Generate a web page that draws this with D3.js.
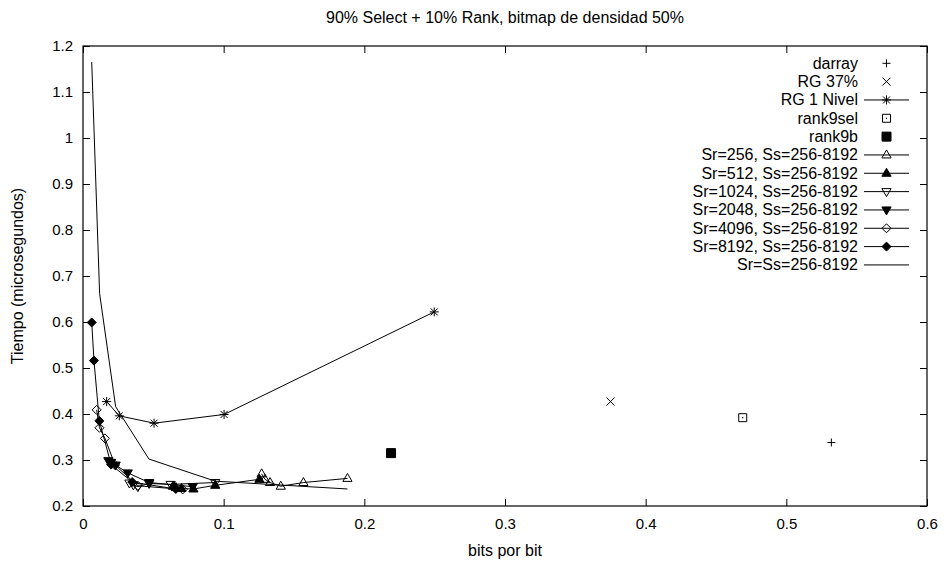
<!DOCTYPE html>
<html>
<head>
<meta charset="utf-8">
<script src="https://cdn.jsdelivr.net/npm/d3@7"></script>
<style>
  html, body { margin: 0; padding: 0; background: #fff; }
  svg text { font-family: "Liberation Sans", Arial, Helvetica, sans-serif; fill: #000; }
</style>
</head>
<body>
<svg id="chart" width="944" height="565"></svg>
<script>
// ---- data ----------------------------------------------------------------
const xTickValues = [0, 0.1, 0.2, 0.3, 0.4, 0.5, 0.6];
const xTickLabels = ["0", "0.1", "0.2", "0.3", "0.4", "0.5", "0.6"];
const yTickValues = [0.2, 0.3, 0.4, 0.5, 0.6, 0.7, 0.8, 0.9, 1.0, 1.1, 1.2];
const yTickLabels = ["0.2", "0.3", "0.4", "0.5", "0.6", "0.7", "0.8", "0.9", "1", "1.1", "1.2"];

const darrayX = [0.532];
const darrayY = [0.338];
const rg37X = [0.375];
const rg37Y = [0.427];
const rgNivelX = [0.0168, 0.0258, 0.0505, 0.1003, 0.2497];
const rgNivelY = [0.427, 0.396, 0.380, 0.399, 0.622];
const rank9selX = [0.469];
const rank9selY = [0.392];
const rank9bX = [0.219];
const rank9bY = [0.315];

const sr256X  = [0.188, 0.1567, 0.1406, 0.133, 0.1294, 0.127];
const sr256Y  = [0.260, 0.251, 0.243, 0.251, 0.258, 0.270];
const sr512X  = [0.1254, 0.094, 0.0785, 0.070, 0.066, 0.064];
const sr512Y  = [0.258, 0.245, 0.237, 0.238, 0.240, 0.243];
const sr1024X = [0.094, 0.0623, 0.047, 0.039, 0.0358, 0.033];
const sr1024Y = [0.251, 0.247, 0.249, 0.242, 0.246, 0.250];
const sr2048X = [0.078, 0.047, 0.0318, 0.0232, 0.020, 0.018];
const sr2048Y = [0.242, 0.251, 0.272, 0.289, 0.295, 0.2985];
const sr4096X = [0.0709, 0.039, 0.0228, 0.0156, 0.0117, 0.0097];
const sr4096Y = [0.236, 0.244, 0.289, 0.347, 0.370, 0.409];
const sr8192X = [0.066, 0.035, 0.020, 0.0116, 0.0078, 0.0062];
const sr8192Y = [0.237, 0.252, 0.290, 0.385, 0.516, 0.599];
const srEqX   = [0.188, 0.094, 0.0469, 0.0232, 0.0118, 0.0062];
const srEqY   = [0.237, 0.254, 0.302, 0.416, 0.662, 1.165];

const series = [
  { name: "darray", xs: darrayX, ys: darrayY, mark: "plus", line: false },
  { name: "RG 37%", xs: rg37X, ys: rg37Y, mark: "cross", line: false },
  { name: "RG 1 Nivel", xs: rgNivelX, ys: rgNivelY, mark: "star", line: true },
  { name: "rank9sel", xs: rank9selX, ys: rank9selY, mark: "box", line: false },
  { name: "rank9b", xs: rank9bX, ys: rank9bY, mark: "fbox", line: false },
  { name: "Sr=256, Ss=256-8192", xs: sr256X, ys: sr256Y, mark: "tri", line: true },
  { name: "Sr=512, Ss=256-8192", xs: sr512X, ys: sr512Y, mark: "ftri", line: true },
  { name: "Sr=1024, Ss=256-8192", xs: sr1024X, ys: sr1024Y, mark: "dtri", line: true },
  { name: "Sr=2048, Ss=256-8192", xs: sr2048X, ys: sr2048Y, mark: "fdtri", line: true },
  { name: "Sr=4096, Ss=256-8192", xs: sr4096X, ys: sr4096Y, mark: "dia", line: true },
  { name: "Sr=8192, Ss=256-8192", xs: sr8192X, ys: sr8192Y, mark: "fdia", line: true },
  { name: "Sr=Ss=256-8192", xs: srEqX, ys: srEqY, mark: null, line: true }
];

// ---- layout ----------------------------------------------------------------
const plot = { left: 83, right: 927, top: 46, bottom: 506 };
const svg = d3.select("#chart");

const x = d3.scaleLinear().domain([0, 0.6]).range([plot.left, plot.right]);
const y = d3.scaleLinear().domain([0.2, 1.2]).range([plot.bottom, plot.top]);

// tick marks point into the plot on all four sides
const tickLen = 7;
const xAxisB = d3.axisBottom(x).tickValues(xTickValues)
  .tickFormat((d, i) => xTickLabels[i]).tickSize(-tickLen).tickPadding(12);
const xAxisT = d3.axisTop(x).tickValues(xTickValues).tickFormat("").tickSize(-tickLen);
const yAxisL = d3.axisLeft(y).tickValues(yTickValues)
  .tickFormat((d, i) => yTickLabels[i]).tickSize(-tickLen).tickPadding(10);
const yAxisR = d3.axisRight(y).tickValues(yTickValues).tickFormat("").tickSize(-tickLen);

function styleAxis(g) {
  g.select(".domain").remove();
  g.selectAll(".tick line").attr("stroke", "#000").attr("stroke-width", 1);
  g.selectAll(".tick text").style("font-size", "15px").attr("fill", "#000");
}

svg.append("g").attr("transform", `translate(0,${plot.bottom})`).call(xAxisB).call(styleAxis);
svg.append("g").attr("transform", `translate(0,${plot.top})`).call(xAxisT).call(styleAxis);
svg.append("g").attr("transform", `translate(${plot.left},0)`).call(yAxisL).call(styleAxis);
svg.append("g").attr("transform", `translate(${plot.right},0)`).call(yAxisR).call(styleAxis);

// frame
svg.append("rect")
  .attr("x", plot.left).attr("y", plot.top)
  .attr("width", plot.right - plot.left).attr("height", plot.bottom - plot.top)
  .attr("fill", "none").attr("stroke", "#000").attr("stroke-width", 1.2);

// titles
svg.append("text").attr("x", (plot.left + plot.right) / 2).attr("y", 23)
  .attr("text-anchor", "middle").style("font-size", "16px")
  .text("90% Select + 10% Rank, bitmap de densidad 50%");
svg.append("text").attr("x", (plot.left + plot.right) / 2).attr("y", 556)
  .attr("text-anchor", "middle").style("font-size", "16px")
  .text("bits por bit");
svg.append("text")
  .attr("transform", `translate(23,${(plot.top + plot.bottom) / 2}) rotate(-90)`)
  .attr("text-anchor", "middle").style("font-size", "16px")
  .text("Tiempo (microsegundos)");

// ---- markers -------------------------------------------------------------
function drawMark(g, type, cx, cy) {
  const path = (d, fill) => g.append("path").attr("d", d)
    .attr("transform", `translate(${cx},${cy})`)
    .attr("fill", fill || "none").attr("stroke", "#000").attr("stroke-width", 1);
  switch (type) {
    case "plus": path("M-4,0H4M0,-4V4"); break;
    case "cross": path("M-4,-4L4,4M-4,4L4,-4"); break;
    case "star": path("M-4.5,0H4.5M0,-4.5V4.5M-3.5,-3.5L3.5,3.5M-3.5,3.5L3.5,-3.5"); break;
    case "box":
      path("M-4,-4H4V4H-4Z");
      g.append("rect").attr("x", cx - 0.6).attr("y", cy - 0.6).attr("width", 1.2).attr("height", 1.2).attr("fill", "#000");
      break;
    case "fbox": path("M-4.5,-4.5H4.5V4.5H-4.5Z", "#000"); break;
    case "tri": path("M0,-5L4.6,3L-4.6,3Z"); break;
    case "ftri": path("M0,-5L4.6,3L-4.6,3Z", "#000"); break;
    case "dtri": path("M0,5L4.6,-3L-4.6,-3Z"); break;
    case "fdtri": path("M0,5L4.6,-3L-4.6,-3Z", "#000"); break;
    case "dia": path("M0,-4.5L4.5,0L0,4.5L-4.5,0Z"); break;
    case "fdia": path("M0,-4.5L4.5,0L0,4.5L-4.5,0Z", "#000"); break;
  }
}

const plotG = svg.append("g");
const line = d3.line().x(d => x(d[0])).y(d => y(d[1]));

series.forEach(sr => {
  const pts = sr.xs.map((v, i) => [v, sr.ys[i]]);
  const g = plotG.append("g");
  if (sr.line) {
    g.append("path").datum(pts).attr("d", line)
      .attr("fill", "none").attr("stroke", "#000").attr("stroke-width", 1);
  }
  if (sr.mark) pts.forEach(p => drawMark(g, sr.mark, x(p[0]), y(p[1])));
});

// ---- legend ----------------------------------------------------------------
const legend = svg.append("g");
const legTextX = 858, legLineX0 = 864, legLineX1 = 909, legY0 = 63.3, legDy = 18.33;
series.forEach((sr, i) => {
  const cy = legY0 + i * legDy;
  legend.append("text").attr("x", legTextX).attr("y", cy + 5.5)
    .attr("text-anchor", "end").style("font-size", "16px").text(sr.name);
  if (sr.line) {
    legend.append("line").attr("x1", legLineX0).attr("x2", legLineX1)
      .attr("y1", cy).attr("y2", cy).attr("stroke", "#000").attr("stroke-width", 1);
  }
  if (sr.mark) drawMark(legend, sr.mark, (legLineX0 + legLineX1) / 2, cy);
});
</script>
</body>
</html>
